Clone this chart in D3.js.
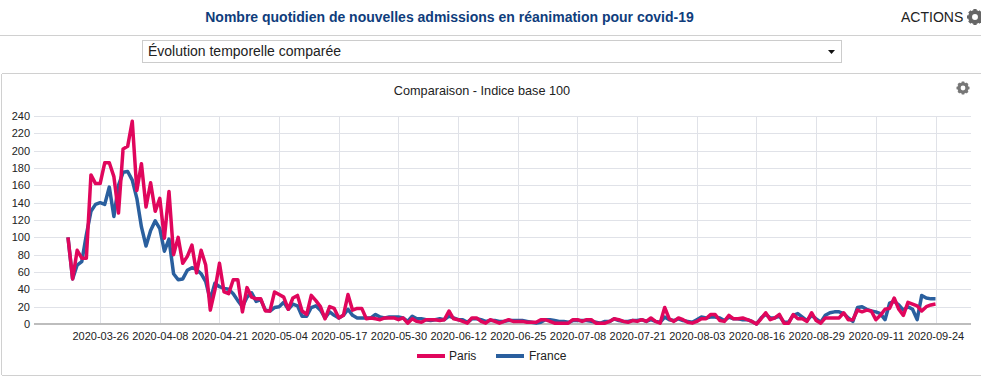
<!DOCTYPE html>
<html>
<head>
<meta charset="utf-8">
<script src="https://cdn.jsdelivr.net/npm/d3@7"></script>
<style>
  body { margin: 0; background: #fff; }
  svg { display: block; font-family: "Liberation Sans", Arial, sans-serif; }
</style>
</head>
<body>
<svg id="chart" width="981" height="387"></svg>
<script>
const startDate = "2020-03-19";

const parisValues = [
  100, 52, 85, 76, 76, 172, 162, 162, 186, 186, 170, 128, 202, 205, 234, 154, 185, 135, 163, 130,
  145, 99, 153, 80, 100, 70, 78, 91, 59, 85, 68, 16, 39, 70, 37, 35, 51, 51, 14, 42,
  31, 29, 29, 15, 15, 37, 34, 31, 17, 30, 33, 15, 11, 33, 27, 20, 6, 20, 18, 7,
  10, 34, 16, 18, 18, 6, 7, 6, 5, 7, 7, 7, 5, 7, 1, 6, 3, 2, 5, 5,
  5, 4, 5, 15, 6, 5, 3, 1, 7, 7, 3, 1, 5, 3, 1, 3, 5, 3, 3, 3,
  2, 2, 2, 5, 5, 3, 1, 1, 1, 1, 5, 5, 3, 5, 5, 1, 1, 1, 3, 6,
  5, 3, 2, 4, 3, 5, 3, 7, 3, 1, 19, 6, 3, 7, 5, 2, 1, 3, 6, 6,
  11, 11, 4, 3, 10, 6, 6, 7, 5, 3, 0, 6, 13, 5, 7, 11, 1, 1, 11, 6,
  6, 3, 13, 4, 1, 7, 7, 7, 7, 13, 5, 5, 16, 14, 16, 15, 5, 10, 17, 18,
  30, 17, 10, 25, 23, 21, 15, 20, 22, 23
];

const franceValues = [
  100, 52, 68, 72, 103, 130, 138, 140, 138, 158, 124, 160, 175, 176, 166, 145, 112, 90, 108, 119,
  110, 84, 98, 58, 51, 52, 62, 65, 63, 58, 49, 28, 47, 43, 41, 40, 35, 27, 20, 31,
  36, 26, 28, 16, 15, 19, 20, 25, 17, 23, 21, 9, 9, 19, 21, 16, 7, 14, 10, 7,
  10, 17, 10, 7, 7, 7, 7, 11, 8, 7, 8, 8, 8, 7, 3, 9, 6, 6, 5, 4,
  5, 6, 5, 9, 7, 5, 5, 2, 6, 6, 5, 3, 4, 4, 3, 3, 4, 4, 4, 4,
  3, 2, 1, 2, 5, 5, 4, 3, 3, 2, 4, 4, 4, 4, 3, 2, 1, 3, 3, 6,
  4, 3, 3, 4, 4, 5, 3, 5, 3, 2, 8, 5, 4, 6, 4, 3, 2, 5, 8, 7,
  8, 8, 7, 4, 8, 6, 6, 5, 5, 3, 0, 7, 11, 7, 7, 9, 2, 2, 10, 12,
  8, 4, 10, 6, 2, 10, 13, 14, 14, 12, 7, 3, 19, 20, 17, 15, 14, 12, 5, 24,
  26, 22, 16, 20, 17, 5, 33, 30, 29, 29
];

const yTicks = [0, 20, 40, 60, 80, 100, 120, 140, 160, 180, 200, 220, 240];
const xTickLabels = [
  "2020-03-26", "2020-04-08", "2020-04-21", "2020-05-04", "2020-05-17",
  "2020-05-30", "2020-06-12", "2020-06-25", "2020-07-08", "2020-07-21",
  "2020-08-03", "2020-08-16", "2020-08-29", "2020-09-11", "2020-09-24"
];

const parisColor = "#e0065c";
const franceColor = "#2a5f9e";
const gridColor = "#e0e2e8";

const fmt = d3.utcFormat("%Y-%m-%d");
const firstDay = d3.utcParse("%Y-%m-%d")(startDate);
const dates = parisValues.map((d, i) => fmt(d3.utcDay.offset(firstDay, i)));

const svg = d3.select("#chart");

const x = d3.scalePoint().domain(dates).range([68, 935.5]);
const y = d3.scaleLinear().domain([0, 240]).range([324, 116]);

// page furniture
function panelLine(x1, y1, x2, y2, color) {
  svg.append("line")
    .attr("x1", x1).attr("y1", y1).attr("x2", x2).attr("y2", y2)
    .attr("stroke", color)
    .attr("shape-rendering", "crispEdges");
}

function gear(cx, cy, r, color) {
  const g = svg.append("g").attr("transform", `translate(${cx},${cy})`);
  g.append("circle").attr("r", r * 0.62)
    .attr("fill", "none").attr("stroke", color).attr("stroke-width", r * 0.5);
  d3.range(8).forEach((i) => {
    g.append("rect")
      .attr("x", -r * 0.2).attr("y", -r)
      .attr("width", r * 0.4).attr("height", r * 0.4)
      .attr("fill", color)
      .attr("transform", `rotate(${i * 45})`);
  });
}

svg.append("text")
  .attr("x", 449.5).attr("y", 22)
  .attr("text-anchor", "middle")
  .attr("font-size", 14).attr("font-weight", "bold")
  .attr("fill", "#0f3d7c")
  .text("Nombre quotidien de nouvelles admissions en réanimation pour covid-19");

svg.append("text")
  .attr("x", 901).attr("y", 22)
  .attr("font-size", 14).attr("fill", "#222")
  .text("ACTIONS");
gear(975, 17, 8, "#666");

panelLine(0, 35.5, 981, 35.5, "#d0d0d0");

svg.append("rect")
  .attr("x", 142.5).attr("y", 40.5)
  .attr("width", 699).attr("height", 22)
  .attr("fill", "#fff").attr("stroke", "#ccc");
svg.append("text")
  .attr("x", 148).attr("y", 56)
  .attr("font-size", 14).attr("fill", "#222")
  .text("Évolution temporelle comparée");
svg.append("path")
  .attr("d", d3.line()([[828, 50], [835, 50], [831.5, 54]]) + "Z")
  .attr("fill", "#111");

panelLine(1.5, 73.5, 981, 73.5, "#d0d0d0");
panelLine(1.5, 73.5, 1.5, 375, "#d0d0d0");
panelLine(1.5, 375.5, 981, 375.5, "#d0d0d0");

svg.append("text")
  .attr("x", 482).attr("y", 94.5)
  .attr("text-anchor", "middle")
  .attr("font-size", 12.7).attr("fill", "#222")
  .text("Comparaison - Indice base 100");
gear(963, 88, 6.5, "#777");

// grid
svg.append("g").selectAll("line")
  .data(yTicks.slice(1))
  .enter()
  .append("line")
  .attr("x1", 34).attr("x2", 971)
  .attr("y1", (d) => Math.round(y(d)) + 0.5)
  .attr("y2", (d) => Math.round(y(d)) + 0.5)
  .attr("stroke", gridColor);

svg.append("g").selectAll("line")
  .data(xTickLabels)
  .enter()
  .append("line")
  .attr("x1", (d) => Math.round(x(d)) + 0.5)
  .attr("x2", (d) => Math.round(x(d)) + 0.5)
  .attr("y1", 116).attr("y2", 324)
  .attr("stroke", gridColor);

// axes
const xAxis = svg.append("g")
  .attr("transform", "translate(0,324)")
  .call(d3.axisBottom(x).tickValues(xTickLabels).tickSize(0).tickPadding(8));
xAxis.select(".domain").remove();
xAxis.selectAll("text")
  .attr("font-family", "Liberation Sans, Arial, sans-serif")
  .attr("font-size", 11).attr("fill", "#222");

const yAxis = svg.append("g")
  .attr("transform", "translate(30,0)")
  .call(d3.axisLeft(y).tickValues(yTicks).tickSize(0).tickPadding(0));
yAxis.select(".domain").remove();
yAxis.selectAll("text")
  .attr("font-family", "Liberation Sans, Arial, sans-serif")
  .attr("font-size", 11).attr("fill", "#222");

svg.append("line")
  .attr("x1", 34).attr("x2", 971)
  .attr("y1", 324).attr("y2", 324)
  .attr("stroke", "#bdbdbd").attr("stroke-width", 2);

// series, France goes under Paris
const line = d3.line()
  .x((d, i) => x(dates[i]))
  .y((d) => y(d));

svg.append("path")
  .datum(franceValues)
  .attr("d", line)
  .attr("fill", "none")
  .attr("stroke", franceColor)
  .attr("stroke-width", 3.5)
  .attr("stroke-linejoin", "round");

svg.append("path")
  .datum(parisValues)
  .attr("d", line)
  .attr("fill", "none")
  .attr("stroke", parisColor)
  .attr("stroke-width", 3.5)
  .attr("stroke-linejoin", "round");

// legend
const legendItems = [
  { name: "Paris", color: parisColor, x1: 417, x2: 445, tx: 449 },
  { name: "France", color: franceColor, x1: 496, x2: 524, tx: 529 },
];
legendItems.forEach((d) => {
  svg.append("line")
    .attr("x1", d.x1).attr("x2", d.x2)
    .attr("y1", 356).attr("y2", 356)
    .attr("stroke", d.color).attr("stroke-width", 4);
  svg.append("text")
    .attr("x", d.tx).attr("y", 360)
    .attr("font-size", 12).attr("fill", "#222")
    .text(d.name);
});
</script>
</body>
</html>
